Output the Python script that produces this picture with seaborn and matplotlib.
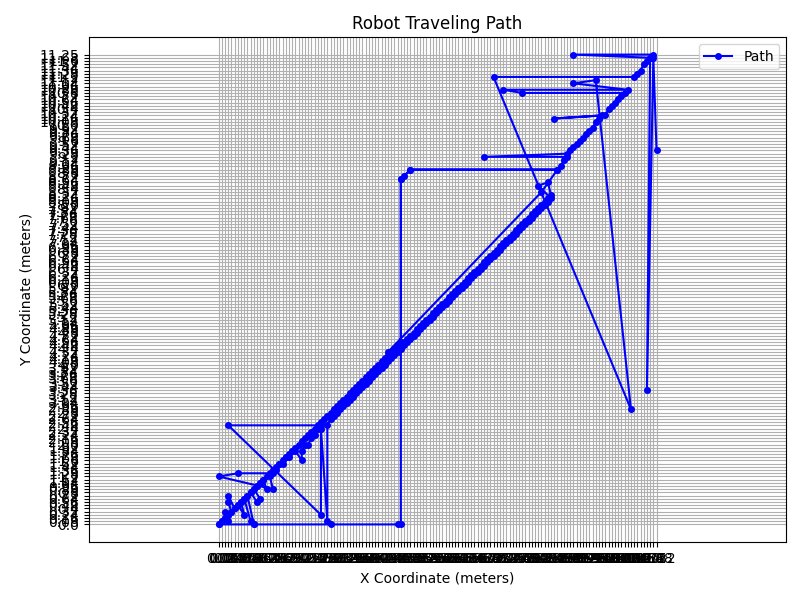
import matplotlib
matplotlib.use("Agg")
import matplotlib.pyplot as plt
import pandas as pd
import seaborn as sns

# Category labels in axis order (string coordinates, as logged by the robot)
x_ticks = (
    "0.0 0.08 0.16 0.24 0.32 0.4 0.48 0.56 0.64 0.72 "
    "0.8 0.88 0.96 1.04 1.12 1.2 1.28 1.36 1.44 1.52 "
    "1.6 1.68 1.76 1.84 1.92 2.0 2.08 2.16 2.24 2.32 "
    "2.4 2.48 2.56 2.64 2.72 2.8 2.88 2.96 3.04 3.12 "
    "3.2 3.28 3.36 3.44 3.52 3.6 3.68 3.76 3.84 3.92 "
    "4.0 4.08 4.16 4.24 4.32 4.4 4.48 4.56 4.64 4.72 "
    "4.8 4.88 4.96 5.04 5.12 5.2 5.28 5.36 5.44 5.52 "
    "5.6 5.68 5.76 5.84 5.92 6.0 6.08 6.16 6.24 6.32 "
    "6.4 6.48 6.56 6.64 6.72 6.8 6.88 6.96 7.04 7.12 "
    "7.2 7.28 7.36 7.44 7.52 7.6 7.68 7.76 7.84 7.92 "
    "8.0 8.08 8.16 8.24 8.32 8.4 8.48 8.56 8.64 8.72 "
    "8.8 8.88 8.96 9.04 9.12 9.2 9.28 9.36 9.44 9.52 "
    "9.6 9.68 9.76 9.84 9.92 10.0 10.08 10.16 10.24 10.32 "
    "10.4 10.48 10.56 10.64 10.72 10.8 10.88 11.52"
).split()

y_ticks = (
    "0.0 0.08 0.16 0.24 0.32 0.4 0.48 0.56 0.64 0.72 "
    "0.8 0.88 0.96 1.04 1.12 1.2 1.28 1.36 1.44 1.52 "
    "1.6 1.68 1.76 1.84 1.92 2.0 2.08 2.16 2.24 2.32 "
    "2.4 2.48 2.56 2.64 2.72 2.8 2.88 2.96 3.04 3.12 "
    "3.2 3.28 3.36 3.44 3.52 3.6 3.68 3.76 3.84 3.92 "
    "4.0 4.08 4.16 4.24 4.32 4.4 4.48 4.56 4.64 4.72 "
    "4.8 4.88 4.96 5.04 5.12 5.2 5.28 5.36 5.44 5.52 "
    "5.6 5.68 5.76 5.84 5.92 6.0 6.08 6.16 6.24 6.32 "
    "6.4 6.48 6.56 6.64 6.72 6.8 6.88 6.96 7.04 7.12 "
    "7.2 7.28 7.36 7.44 7.52 7.6 7.68 7.76 7.84 7.92 "
    "8.0 8.08 8.16 8.24 8.32 8.4 8.48 8.56 8.64 8.72 "
    "8.8 8.88 8.96 9.04 9.12 9.2 9.28 9.36 9.44 9.52 "
    "9.6 9.68 9.76 9.84 9.92 10.0 10.08 10.16 10.24 10.32 "
    "10.4 10.48 10.56 10.64 10.72 10.8 10.88 10.96 11.04 11.12 "
    "11.2 11.28 11.36 11.44 11.52 11.6 11.68 11.25"
).split()

# Path waypoints, in travel order
path_x = (
    # bottom edge, long climb and back down
    "0.0 0.88 2.8 4.48 4.56 4.56 4.64 4.8 8.48 4.8 4.56 4.56 "
    # lower diagonal back to the origin
    "4.48 4.4 4.32 4.24 4.16 4.08 4.0 3.92 3.84 3.76 3.68 3.6 3.52 3.44 3.36 "
    "3.28 3.2 3.12 3.04 2.96 2.88 2.8 2.72 2.64 2.56 2.48 2.4 2.32 2.24 2.16 "
    "2.08 2.0 1.92 1.84 1.76 1.68 1.6 1.52 1.44 1.36 1.28 1.2 1.12 1.04 0.96 "
    "0.88 0.8 0.72 0.64 0.56 0.48 0.4 0.32 0.24 0.16 0.08 "
    # start area
    "0.0 0.08 0.16 0.24 0.16 0.24 0.32 0.24 0.24 0.4 0.48 0.64 0.56 0.64 0.8 "
    "0.88 0.72 0.8 0.96 1.04 0.88 0.96 1.04 1.2 1.12 1.28 1.36 0.0 0.48 1.36 "
    "1.44 1.52 1.6 1.68 1.76 1.84 1.92 2.08 2.08 2.16 2.24 2.32 2.4 2.48 2.56 "
    "0.24 2.56 2.56 2.72 2.72 "
    # diagonal, going up
    "2.8 2.88 2.96 3.04 3.12 3.2 3.28 3.36 3.44 3.52 "
    "3.6 3.68 3.76 3.84 3.92 4.0 4.08 4.16 4.24 4.32 "
    "4.4 4.48 4.56 4.64 4.72 4.8 4.88 4.96 5.04 5.12 "
    "5.2 5.28 5.36 5.44 5.52 5.6 5.68 5.76 5.84 5.92 "
    "6.0 6.08 6.16 6.24 6.32 6.4 6.48 6.56 6.64 6.72 "
    "6.8 6.88 6.96 7.04 7.12 7.2 7.28 7.36 7.44 7.52 "
    "7.6 7.68 7.76 7.84 7.92 8.0 8.08 8.16 8.24 8.32 "
    "8.0 8.24 8.32 "
    # diagonal, coming back
    "8.24 8.16 8.08 8.0 7.92 7.84 7.76 7.68 7.6 7.52 7.44 7.36 7.28 7.2 7.12 "
    "7.04 6.96 6.88 6.8 6.72 6.64 6.56 6.48 6.4 6.32 6.24 6.16 6.08 6.0 5.92 "
    "5.84 5.76 5.68 5.6 5.52 5.44 5.36 5.28 5.2 5.12 5.04 4.96 4.88 4.8 4.72 "
    "4.64 4.56 4.48 4.4 4.32 "
    "4.24 8.08 8.48 "
    # upper diagonal
    "8.56 8.64 8.72 6.64 8.72 8.8 8.88 8.96 9.04 9.12 9.2 9.28 9.36 9.44 9.52 "
    "9.6 8.4 9.68 9.76 9.84 9.92 10.0 10.08 10.16 "
    # top-right corner
    "7.6 7.12 10.24 8.88 9.44 10.32 6.88 10.4 10.48 10.56 10.64 10.72 10.8 "
    "10.88 8.88 10.8 10.72 10.88 11.52"
).split()

path_y = (
    "0.0 0.0 0.0 0.0 0.0 8.64 8.72 8.88 8.88 8.88 8.64 4.56 "
    "4.48 4.4 4.32 4.24 4.16 4.08 4.0 3.92 3.84 3.76 3.68 3.6 3.52 3.44 3.36 "
    "3.28 3.2 3.12 3.04 2.96 2.88 2.8 2.72 2.64 2.56 2.48 2.4 2.32 2.24 2.16 "
    "2.08 2.0 1.92 1.84 1.76 1.68 1.6 1.52 1.44 1.36 1.28 1.2 1.12 1.04 0.96 "
    "0.88 0.8 0.72 0.64 0.56 0.48 0.4 0.32 0.24 0.16 0.08 "
    "0.0 0.08 0.16 0.08 0.32 0.24 0.32 0.56 0.72 0.4 0.48 0.24 0.56 0.64 0.08 "
    "0.0 0.72 0.8 0.56 0.64 0.88 0.96 1.04 0.88 1.12 1.2 0.88 1.2 1.28 1.28 "
    "1.36 1.52 1.52 1.68 1.68 1.84 1.84 1.6 1.84 2.0 2.0 2.16 2.24 2.4 2.48 "
    "2.48 0.24 2.4 0.08 2.48 "
    "2.64 2.72 2.8 2.88 2.96 3.04 3.12 3.2 3.28 3.36 "
    "3.44 3.52 3.6 3.68 3.76 3.84 3.92 4.0 4.08 4.16 "
    "4.24 4.32 4.4 4.48 4.56 4.64 4.72 4.8 4.88 4.96 "
    "5.04 5.12 5.2 5.28 5.36 5.44 5.52 5.6 5.68 5.76 "
    "5.84 5.92 6.0 6.08 6.16 6.24 6.32 6.4 6.48 6.56 "
    "6.64 6.72 6.8 6.88 6.96 7.04 7.12 7.2 7.28 7.36 "
    "7.44 7.52 7.6 7.68 7.76 7.84 7.92 8.0 8.08 8.16 "
    "8.48 8.56 8.24 "
    "8.16 8.08 8.0 7.92 7.84 7.76 7.68 7.6 7.52 7.44 7.36 7.28 7.2 7.12 7.04 "
    "6.96 6.88 6.8 6.72 6.64 6.56 6.48 6.4 6.32 6.24 6.16 6.08 6.0 5.92 5.84 "
    "5.76 5.68 5.6 5.52 5.44 5.36 5.28 5.2 5.12 5.04 4.96 4.88 4.8 4.72 4.64 "
    "4.56 4.48 4.4 4.32 4.24 "
    "4.32 8.32 8.88 "
    "8.96 9.12 9.2 9.2 9.28 9.36 9.44 9.52 9.6 9.68 9.76 9.84 9.92 10.08 10.16 "
    "10.24 10.16 10.24 10.4 10.48 10.56 10.64 10.72 10.8 "
    "10.8 10.88 10.88 11.04 11.12 2.88 11.2 11.2 11.28 11.36 11.52 11.6 11.68 "
    "11.25 11.25 11.68 3.36 11.68 9.36"
).split()

df = pd.DataFrame({"x": path_x, "y": path_y})

fig, ax = plt.subplots(figsize=(8, 6), dpi=100)
# register categories so the axes keep the logged order
ax.xaxis.update_units(x_ticks)
ax.yaxis.update_units(y_ticks)

sns.lineplot(
    data=df, x="x", y="y", ax=ax,
    sort=False, estimator=None,
    color="blue", marker="o", markersize=4,
    markeredgecolor="blue", markeredgewidth=1, linewidth=1.5,
    label="Path",
)
# seaborn flips a categorical y axis; keep first category at the bottom
ax.yaxis.set_inverted(False)

ax.set_title("Robot Traveling Path")
ax.set_xlabel("X Coordinate (meters)")
ax.set_ylabel("Y Coordinate (meters)")
ax.legend(loc="upper right")
ax.grid(True)
ax.margins(0.037)
ax.set_aspect("equal", adjustable="datalim")

fig.subplots_adjust(left=0.111, right=0.983, bottom=0.097, top=0.938)
fig.savefig("out.png", dpi=100)
